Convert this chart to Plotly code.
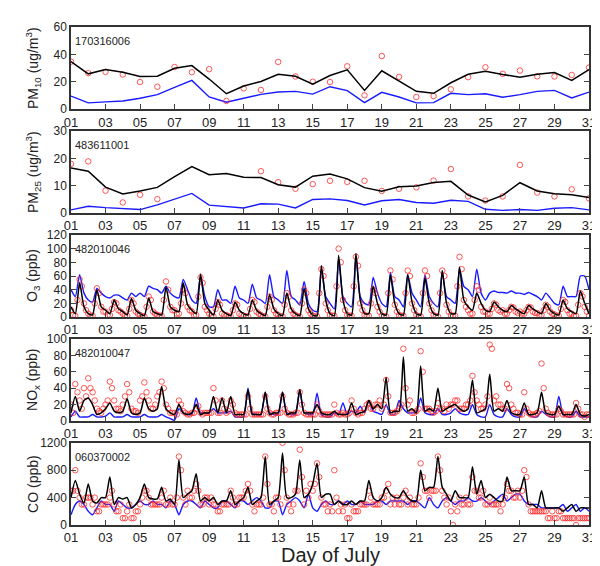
import plotly.graph_objects as go

# ---------------- daily data (days 1..31) ----------------
days = list(range(1, 32))

pm10_obs = [34.7, 26.3, 27.2, 25.3, 19.8, 16.4, 30.8, 27.0, 29.2, 6.0, 15.2, 14.0, 34.5, 23.9, 20.0, 19.8,
            31.3, 10.1, 38.8, 23.6, 8.9, 9.6, 14.5, 23.4, 30.6, 25.8, 28.2, 24.0, 23.9, 25.0, 30.4]
pm10_mod1 = [34.7, 25.8, 28.9, 27.0, 23.9, 24.0, 29.9, 31.8, 22.0, 11.3, 16.9, 20.2, 25.5, 24.0, 18.3, 24.6,
             28.7, 13.7, 28.0, 20.7, 13.0, 11.6, 19.3, 25.5, 27.7, 25.3, 23.4, 25.5, 26.7, 21.0, 28.9]
pm10_mod2 = [9.6, 4.6, 5.3, 6.0, 8.0, 10.6, 15.9, 21.0, 8.9, 5.1, 8.0, 10.8, 12.5, 13.0, 11.0, 16.4,
             13.5, 4.8, 12.3, 8.9, 4.6, 4.8, 11.6, 10.6, 11.3, 8.7, 10.6, 13.0, 13.7, 8.2, 12.5]

pm25_obs = [18.0, 18.9, 8.2, 3.9, 6.7, 5.1, None, None, None, None, None, 15.3, 11.3, 8.9, 10.6, 11.8,
            11.4, 11.8, 8.1, 8.9, 9.4, 11.9, 16.1, 6.1, 4.6, 6.1, 17.6, 7.5, 6.1, 8.7, 5.4]
pm25_mod1 = [16.5, 15.3, 9.5, 7.0, 8.1, 9.4, 13.3, 17.0, 14.0, 14.5, 13.1, 13.0, 10.4, 9.5, 13.5, 14.3,
             12.5, 9.3, 8.0, 9.6, 9.9, 11.2, 11.6, 6.6, 4.1, 6.5, 11.1, 8.1, 7.1, 6.7, 5.7]
pm25_mod2 = [1.2, 2.5, 2.0, 1.6, 1.3, 3.0, 5.0, 7.2, 2.9, 2.4, 1.9, 3.4, 3.3, 1.9, 5.0, 5.2,
             4.6, 3.0, 4.5, 5.0, 3.9, 3.6, 4.7, 4.3, 1.4, 1.0, 1.3, 1.0, 1.8, 2.0, 1.2]

# ---------------- 6-hourly data (00,06,12,18 h of each day, then 31 00h) ----------------
o3_obs = [10, 2, 55, 20, 5, 2, 42, 15, 8, 3, 22, 10, 5, 2, 25, 8, 3, 1, 30, 8,
          3, 2, 52, 15, 10, 5, 40, 15, 8, 3, 58, 15, 5, 1, 22, 5, 3, 1, 20, 5,
          2, 1, 25, 8, 3, 1, 30, 10, 3, 1, 35, 10, 3, 1, 40, 10, 2, 1, 70, 20,
          3, 2, 100, 25, 3, 2, 88, 20, 3, 2, 40, 15, 2, 1, 68, 18, 3, 2, 68, 20,
          3, 1, 68, 20, 3, 1, 68, 18, 3, 2, 88, 25, 10, 5, 45, 15, 8, 5, 20, 10,
          10, 5, 15, 8, 8, 5, 15, 8, 6, 3, 18, 8, 4, 2, 25, 10, 5, 2, 35, 15, 2]
o3_mod1 = [15, 5, 50, 15, 5, 3, 40, 15, 10, 5, 25, 12, 8, 3, 27, 10, 5, 2, 28, 8,
           5, 3, 44, 15, 10, 8, 50, 18, 10, 5, 63, 20, 10, 3, 25, 10, 5, 2, 22, 10,
           5, 3, 25, 10, 5, 2, 33, 12, 5, 2, 35, 12, 5, 2, 42, 12, 3, 2, 75, 25,
           5, 2, 90, 25, 5, 3, 93, 25, 5, 5, 45, 20, 5, 3, 62, 20, 5, 3, 62, 22,
           5, 3, 57, 20, 5, 3, 68, 20, 5, 5, 73, 25, 15, 10, 35, 20, 10, 8, 22, 15,
           10, 8, 17, 12, 8, 5, 17, 12, 8, 5, 20, 10, 5, 3, 25, 12, 8, 5, 38, 20, 5]
o3_mod2 = [40, 30, 62, 35, 25, 22, 42, 35, 30, 28, 32, 32, 28, 25, 35, 30, 35, 30, 45, 42,
           40, 35, 45, 35, 30, 28, 55, 40, 25, 20, 60, 30, 15, 15, 40, 25, 25, 20, 45, 28,
           25, 20, 48, 28, 25, 20, 62, 30, 25, 20, 68, 30, 25, 18, 52, 20, 10, 8, 70, 30,
           20, 12, 85, 30, 20, 15, 88, 30, 20, 18, 58, 35, 20, 15, 65, 30, 25, 15, 62, 35,
           25, 15, 62, 30, 20, 15, 65, 30, 25, 20, 70, 45, 40, 30, 70, 35, 25, 35, 38, 36,
           36, 35, 38, 35, 35, 33, 36, 33, 30, 25, 35, 28, 20, 18, 45, 30, 30, 30, 60, 60, 40]

nox_obs = [20, 45, 25, 40, 52, 35, 15, 10, 20, 48, 25, 15, 20, 45, 15, 12, 25, 47, 25, 15,
           30, 48, 20, 10, 10, 25, 12, 8, 10, 15, 10, 10, 10, 40, 10, 25, 10, 25, 10, 8,
           8, 30, 8, 8, 8, 30, 10, 8, 10, 30, 10, 8, 10, 35, 10, 8, 8, 20, 8, 8,
           8, 20, 8, 10, 8, 25, 10, 10, 15, 22, 15, 20, 15, 50, 10, 10, 15, 88, 20, 10,
           12, 85, 15, 15, 10, 22, 15, 20, 20, 25, 15, 15, 20, 55, 25, 15, 20, 93, 25, 20,
           15, 45, 20, 10, 8, 35, 10, 8, 10, 70, 15, 8, 8, 15, 8, 8, 8, 22, 8, 5, 8]
nox_mod1 = [10, 30, 12, 25, 28, 20, 8, 10, 15, 22, 12, 10, 12, 27, 10, 8, 10, 28, 15, 12,
            15, 42, 15, 10, 8, 20, 10, 8, 10, 20, 8, 10, 10, 30, 10, 28, 10, 30, 8, 8,
            8, 38, 8, 8, 8, 35, 8, 10, 10, 35, 8, 10, 10, 38, 10, 10, 10, 20, 10, 8,
            8, 12, 8, 8, 8, 22, 8, 10, 12, 25, 15, 20, 15, 53, 10, 12, 12, 78, 12, 15,
            10, 67, 12, 15, 12, 40, 12, 15, 18, 20, 15, 12, 15, 50, 10, 12, 15, 57, 12, 15,
            12, 25, 10, 8, 8, 22, 8, 8, 10, 35, 10, 8, 8, 18, 8, 8, 8, 20, 8, 6, 8]
nox_mod2 = [5, 12, 5, 5, 5, 8, 5, 5, 6, 10, 5, 5, 5, 8, 5, 5, 5, 8, 5, 5,
            5, 8, 5, 3, 1, 15, 10, 8, 8, 28, 10, 10, 10, 15, 10, 10, 10, 12, 5, 5,
            5, 40, 10, 8, 8, 35, 10, 8, 8, 35, 10, 8, 8, 38, 10, 8, 8, 34, 8, 5,
            5, 10, 8, 22, 8, 12, 10, 18, 10, 25, 12, 10, 8, 20, 8, 8, 25, 15, 10, 10,
            10, 28, 10, 8, 8, 15, 8, 8, 10, 15, 10, 8, 8, 20, 8, 5, 5, 20, 8, 5,
            5, 15, 8, 5, 5, 15, 8, 5, 5, 12, 8, 5, 5, 30, 8, 5, 5, 12, 5, 5, 5]

co_obs = [500, 800, 400, 300, 400, 300, 200, 300, 300, 400, 300, 200, 100, 200, 100, 200, 300, 500, 400, 300,
          300, 400, 300, 400, 300, 1000, 400, 500, 400, 600, 300, 400, 300, 300, 200, 300, 300, 500, 300, 400,
          400, 600, 300, 300, 300, 1000, 300, 200, 400, 1200, 400, 200, 500, 1100, 300, 400, 500, 900, 400, 300,
          300, 800, 200, 200, 100, 300, 200, 300, 300, 500, 300, 300, 400, 500, 300, 300, 300, 400, 300, 300,
          300, 900, 500, 400, 500, 1000, 500, 300, 200, 300, 400, 300, 300, 700, 500, 400, 300, 400, 300, 300,
          300, 600, 500, 400, 400, 800, 300, 200, 200, 200, 200, 100, 100, 200, 100, 100, 100, 0, 100, 100, 100]
co_mod1 = [400, 650, 450, 320, 600, 350, 320, 400, 400, 700, 300, 400, 380, 400, 250, 300, 400, 600, 400, 380,
           380, 550, 350, 380, 300, 950, 400, 450, 500, 750, 350, 400, 350, 400, 300, 350, 350, 500, 300, 350,
           400, 550, 300, 350, 400, 1000, 300, 350, 400, 1050, 400, 400, 450, 950, 400, 450, 600, 900, 400, 450,
           450, 300, 350, 300, 300, 350, 300, 350, 350, 650, 400, 350, 400, 550, 450, 400, 400, 500, 400, 350,
           350, 800, 500, 550, 550, 1000, 550, 450, 350, 500, 400, 400, 400, 850, 450, 650, 400, 450, 400, 350,
           350, 700, 500, 500, 500, 700, 300, 300, 250, 500, 250, 250, 250, 250, 200, 250, 300, 200, 250, 250, 250]
co_mod2 = [150, 300, 350, 300, 200, 150, 250, 350, 300, 300, 200, 350, 300, 250, 250, 300, 350, 300, 300, 350,
           300, 300, 250, 350, 300, 150, 300, 350, 350, 300, 250, 350, 300, 250, 250, 350, 350, 300, 250, 350,
           350, 300, 350, 400, 350, 250, 250, 350, 350, 150, 300, 350, 400, 350, 250, 450, 250, 200, 300, 350,
           300, 300, 350, 300, 350, 300, 300, 350, 300, 300, 300, 350, 350, 300, 350, 350, 350, 350, 300, 350,
           350, 300, 250, 400, 300, 250, 350, 400, 350, 300, 350, 350, 400, 350, 350, 400, 350, 300, 350, 400,
           450, 350, 400, 450, 450, 350, 300, 300, 300, 250, 250, 250, 250, 250, 300, 200, 250, 300, 200, 250, 200]

# extra observations at 03,09,15,21 h of each day
o3_obs_b = [3, 25, 45, 10, 2, 20, 35, 8, 3, 12, 20, 8, 2, 12, 20, 5, 1, 15, 25, 5,
            2, 25, 40, 10, 5, 20, 35, 10, 3, 30, 50, 10, 2, 12, 18, 3, 1, 10, 18, 3,
            1, 12, 22, 5, 1, 15, 25, 5, 1, 18, 30, 5, 1, 20, 35, 5, 1, 35, 60, 10,
            2, 45, 80, 10, 2, 45, 75, 10, 2, 20, 35, 8, 1, 35, 55, 8, 2, 35, 60, 10,
            1, 35, 60, 10, 1, 35, 60, 8, 2, 45, 70, 15, 5, 25, 40, 8, 5, 12, 18, 8,
            5, 10, 14, 6, 5, 10, 14, 6, 3, 10, 15, 5, 2, 12, 22, 5, 2, 18, 30, 8]
nox_obs_b = [10, 35, 15, 30, 40, 25, 12, 15, 25, 40, 15, 12, 30, 35, 12, 10, 30, 35, 15, 20,
             35, 40, 15, 10, 8, 20, 10, 8, 10, 18, 8, 10, 10, 25, 10, 15, 12, 20, 8, 8,
             8, 15, 8, 8, 8, 15, 8, 10, 10, 15, 8, 8, 10, 20, 8, 8, 8, 12, 8, 8,
             8, 10, 8, 8, 10, 15, 8, 10, 20, 15, 20, 25, 20, 30, 10, 12, 20, 40, 25, 10,
             15, 60, 15, 12, 12, 15, 12, 15, 20, 25, 15, 20, 25, 35, 20, 15, 30, 88, 30, 20,
             15, 40, 15, 10, 8, 15, 8, 8, 12, 40, 10, 8, 8, 12, 8, 8, 8, 15, 8, 8]
co_obs_b = [500, 500, 300, 400, 400, 400, 200, 300, 300, 500, 200, 300, 100, 300, 100, 200, 400, 500, 300, 300,
            300, 500, 300, 300, 400, 800, 300, 400, 500, 500, 300, 400, 400, 300, 200, 300, 300, 400, 300, 400,
            500, 500, 200, 300, 400, 600, 300, 400, 300, 800, 300, 300, 500, 700, 500, 600, 600, 700, 300, 200,
            200, 400, 300, 300, 100, 200, 200, 300, 300, 400, 300, 300, 400, 600, 400, 400, 300, 500, 400, 300,
            400, 700, 500, 500, 500, 800, 400, 400, 0, 200, 300, 400, 300, 500, 400, 500, 300, 300, 300, 200,
            400, 500, 400, 500, 500, 700, 200, 200, 200, 200, 100, 200, 100, 200, 100, 100, 100, 100, 100, 100]

hours = [0, 6, 12, 18]
hours_b = [3, 9, 15, 21]
t6 = [d + h / 24 for d in range(1, 31) for h in hours] + [31]
t6b = [d + h / 24 for d in range(1, 31) for h in hours_b]

tick_vals = list(range(1, 32, 2))
tick_text = ["%02d" % v for v in tick_vals]

panels = [
    dict(x=days, obs=pm10_obs, m1=pm10_mod1, m2=pm10_mod2, yr=[0, 60], dt=20,
         title="PM<sub>10</sub> (ug/m<sup>3</sup>)", site="170316006", xb=None, obsb=None, shape="linear"),
    dict(x=days, obs=pm25_obs, m1=pm25_mod1, m2=pm25_mod2, yr=[0, 30], dt=10,
         title="PM<sub>25</sub> (ug/m<sup>3</sup>)", site="483611001", xb=None, obsb=None, shape="linear"),
    dict(x=t6, obs=o3_obs, m1=o3_mod1, m2=o3_mod2, yr=[0, 120], dt=20,
         title="O<sub>3</sub> (ppb)", site="482010046", xb=t6b, obsb=o3_obs_b, shape="spline"),
    dict(x=t6, obs=nox_obs, m1=nox_mod1, m2=nox_mod2, yr=[0, 100], dt=20,
         title="NO<sub>x</sub> (ppb)", site="482010047", xb=t6b, obsb=nox_obs_b, shape="spline"),
    dict(x=t6, obs=co_obs, m1=co_mod1, m2=co_mod2, yr=[0, 1200], dt=400,
         title="CO (ppb)", site="060370002", xb=t6b, obsb=co_obs_b, shape="spline"),
]

W, H = 600, 566
ML, MR, MT, MB = 63, 19, 14, 49
ph = H - MT - MB
tops = [14, 119, 224, 329, 434]
bots = [97, 202, 307, 412, 517]

FONT = "Liberation Sans, Arial, sans-serif"
RED = "rgba(255,45,45,0.8)"
fig = go.Figure()
layout = dict(width=W, height=H, margin=dict(l=ML, r=MR, t=MT, b=MB),
              paper_bgcolor="white", plot_bgcolor="white", showlegend=False,
              font=dict(family=FONT, size=12, color="#222"))
annotations = []

for i, p in enumerate(panels):
    k = "" if i == 0 else str(i + 1)
    xa, ya = "x" + k, "y" + k
    dom = [(H - MB - bots[i]) / ph, (H - MB - tops[i]) / ph]
    ls = dict(shape=p["shape"], smoothing=0.6) if p["shape"] == "spline" else dict(shape="linear")
    fig.add_trace(go.Scatter(x=p["x"], y=p["m2"], mode="lines", xaxis=xa, yaxis=ya,
                             line=dict(color="#1a1aff", width=1.4, **ls)))
    mk = dict(symbol="circle-open", size=5.5, color=RED, line=dict(width=1))
    fig.add_trace(go.Scatter(x=p["x"], y=p["obs"], mode="markers", xaxis=xa, yaxis=ya, marker=mk))
    if p["obsb"] is not None:
        fig.add_trace(go.Scatter(x=p["xb"], y=p["obsb"], mode="markers", xaxis=xa, yaxis=ya, marker=mk))
    fig.add_trace(go.Scatter(x=p["x"], y=p["m1"], mode="lines", xaxis=xa, yaxis=ya,
                             line=dict(color="black", width=1.5, **ls)))
    layout["xaxis" + k] = dict(domain=[0, 1], anchor=ya, range=[1, 31], tickvals=tick_vals,
                               ticktext=tick_text, ticks="inside", ticklen=5, tickwidth=1,
                               showline=True, linecolor="#333", linewidth=1.5, mirror=True,
                               showgrid=False, zeroline=False,
                               tickfont=dict(size=13, color="#222"))
    layout["yaxis" + k] = dict(domain=dom, anchor=xa, range=p["yr"], dtick=p["dt"],
                               ticks="inside", ticklen=5, tickwidth=1, showline=True,
                               linecolor="#333", linewidth=1.5, mirror="ticks",
                               showgrid=False, zeroline=False,
                               tickfont=dict(size=12, color="#222"))
    annotations.append(dict(text=p["site"], xref=xa + " domain", yref=ya + " domain",
                            x=0.004, y=0.83, xanchor="left", yanchor="middle", showarrow=False,
                            font=dict(size=11, color="#222")))
    annotations.append(dict(text=p["title"], xref="paper", yref="paper",
                            x=(25 - ML) / (W - ML - MR), y=sum(dom) / 2, textangle=-90,
                            xanchor="center", yanchor="middle", showarrow=False,
                            font=dict(size=14, color="#222")))

annotations.append(dict(text="Day of July", xref="paper", yref="paper",
                        x=0.5, y=(H - MB - 547) / ph, xanchor="center", yanchor="middle",
                        showarrow=False, font=dict(size=20, color="#222")))
layout["annotations"] = annotations
fig.update_layout(**layout)
fig.write_html("out.html")
